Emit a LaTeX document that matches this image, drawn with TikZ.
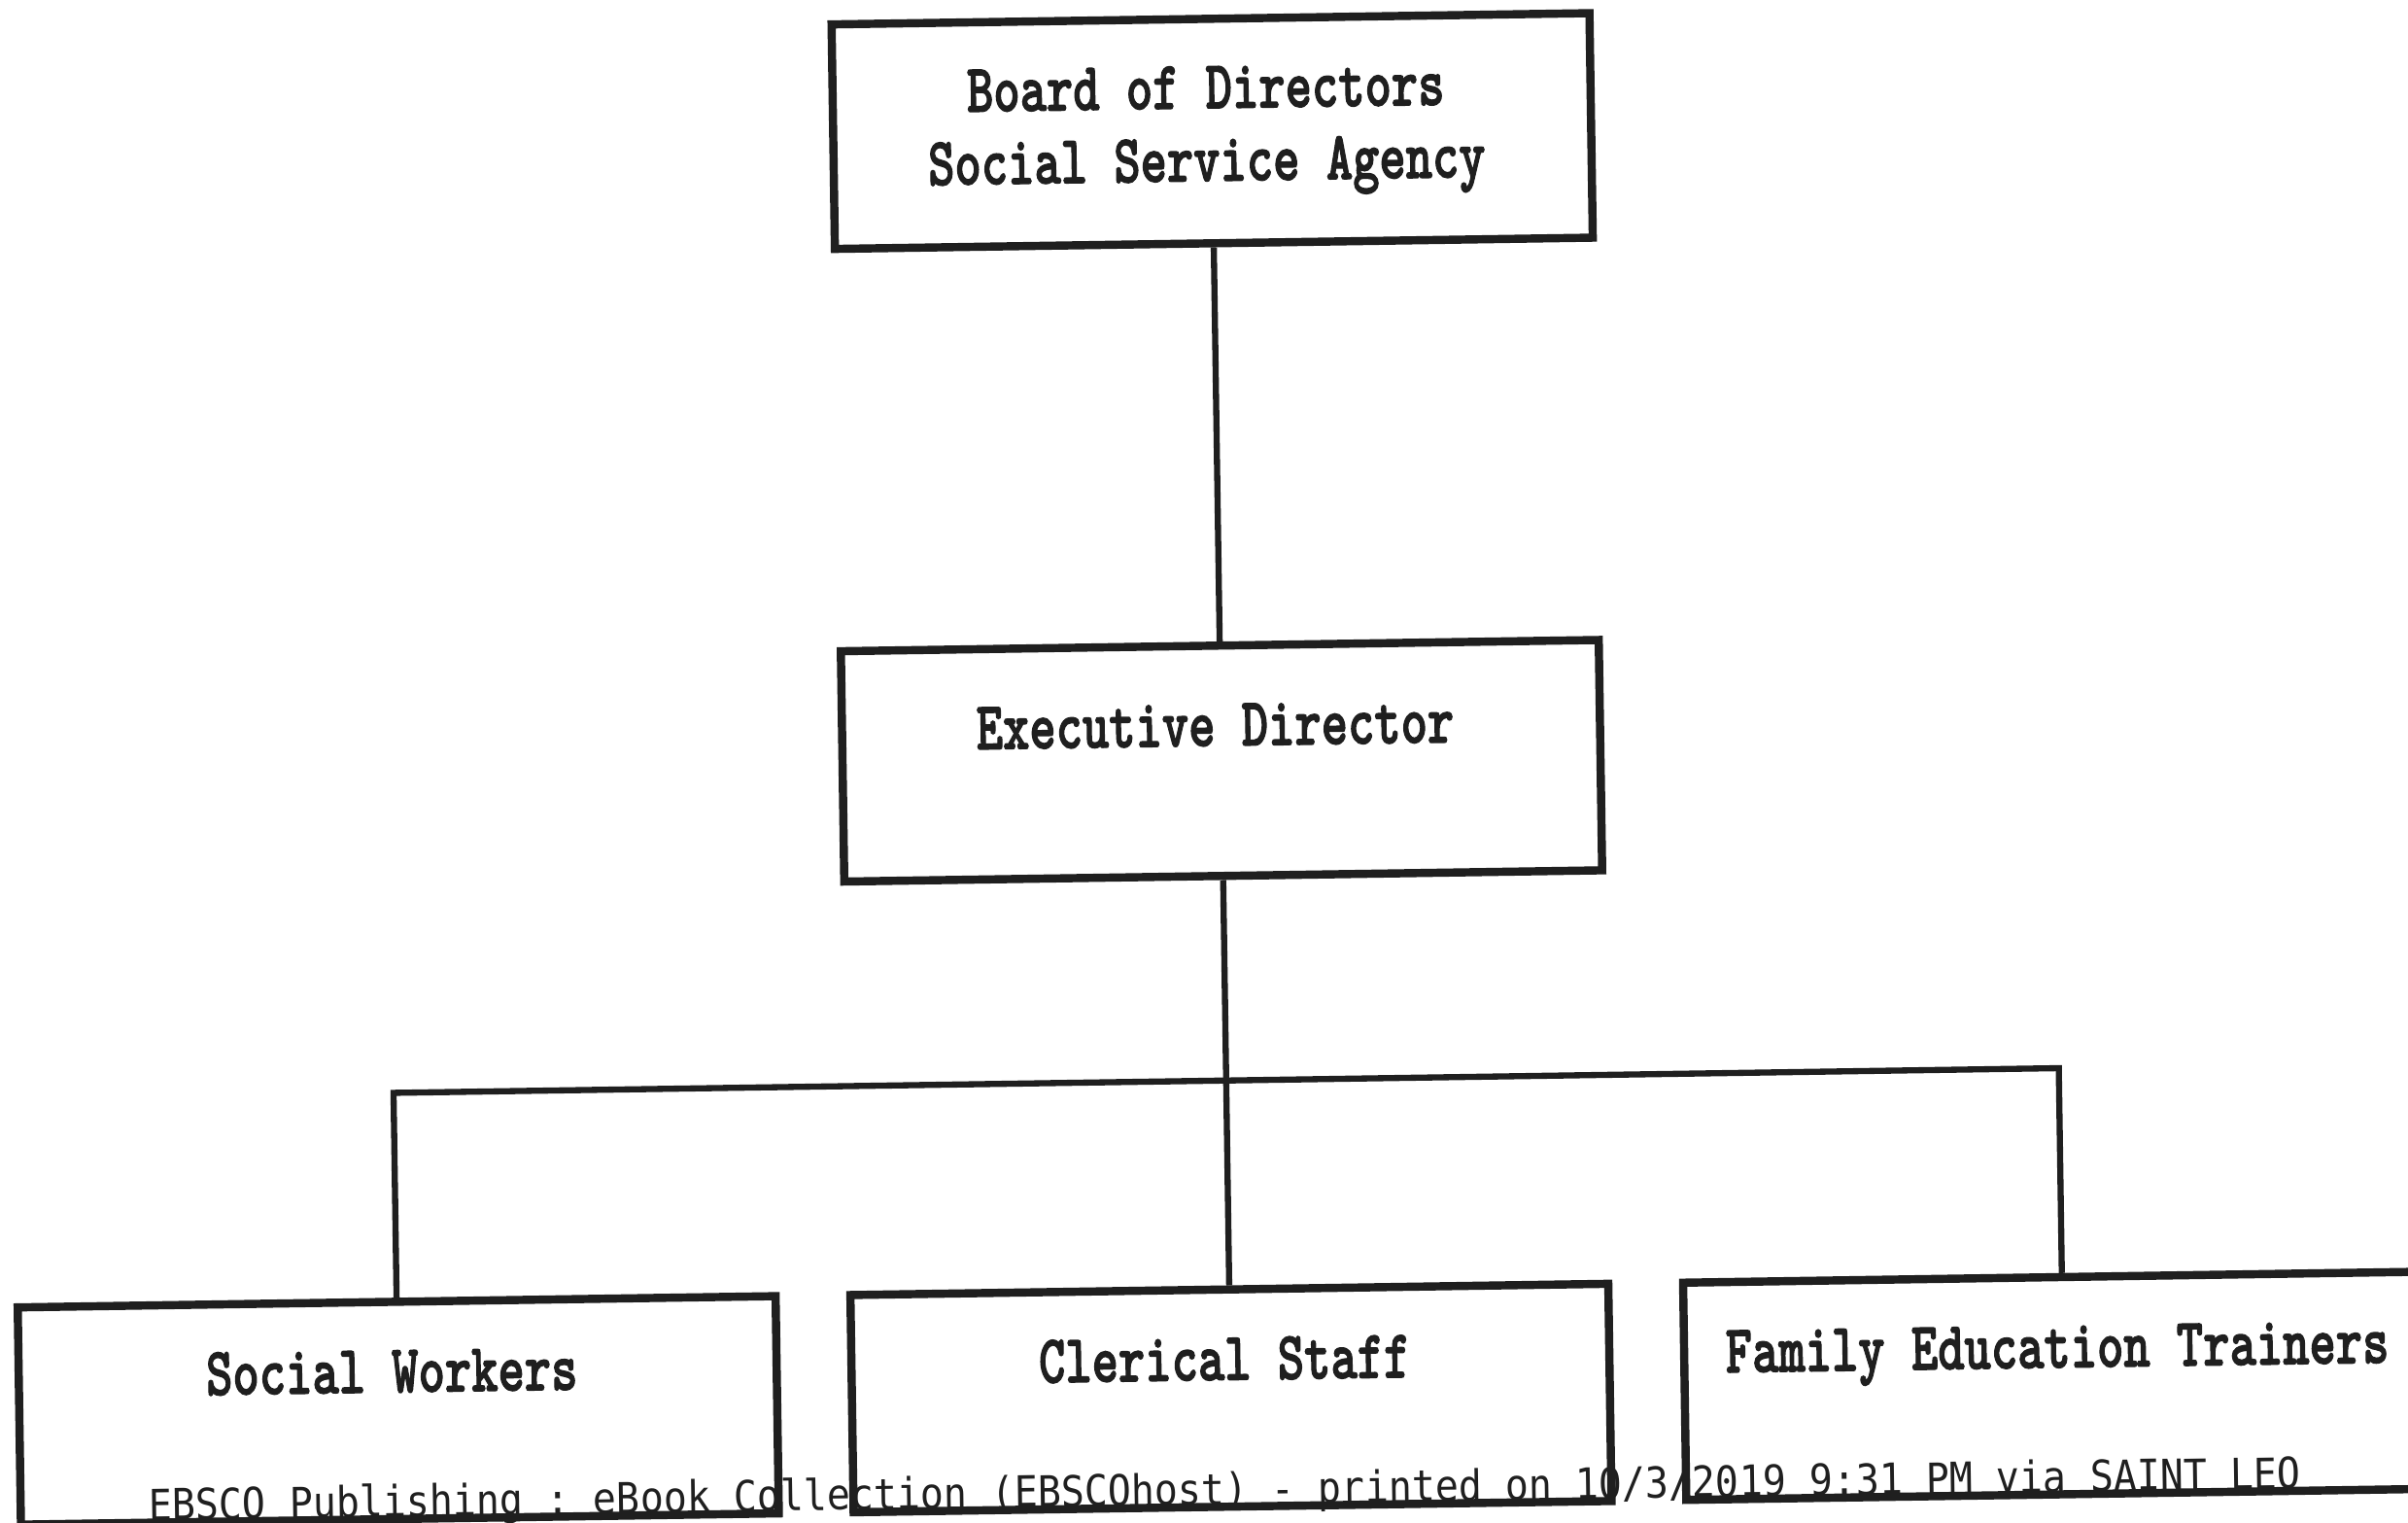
\documentclass[tikz,border=0pt]{standalone}
\usepackage{fontspec}
\usepackage{graphicx}
\newfontfamily\footfont{DejaVu Sans Mono}
\newfontfamily\boxfont{lmmonolt10-bold.otf}[FakeBold=2]
\definecolor{ink}{gray}{0.12}
\newcommand\midx{12.57}
\newcommand\colgap{8.57}
\newcommand\boxw{7.8}
\newcommand\bary{4.54}
\newcommand\squeeze[1]{\scalebox{0.74}[1]{#1}\hspace*{0.12cm}}
\tikzset{
    orgbox/.style={draw=ink, line width=2.4pt, minimum width=\boxw cm, inner sep=0pt,
        text=ink, align=center, font=\boxfont\fontsize{20}{21.3}\selectfont},
    link/.style={draw=ink, line width=1.8pt},
    footer/.style={inner sep=0pt, text=ink, font=\footfont\frenchspacing\fontsize{12.5}{13}\selectfont},
}

\begin{document}
\begin{tikzpicture}
    \useasboundingbox (0,0) rectangle (24.78,15.66);
    \clip (0,0) rectangle (24.78,15.66);
    \begin{scope}[rotate around={0.85:(12.39,7.83)}, transform shape]
    % --- Board
    \node[orgbox, minimum height=2.31cm] (board) at (\midx,14.31) {\squeeze{Board of Directors}\\\squeeze{Social Service Agency}};
    % --- Executive Director
    \node[orgbox, text height=1.03cm, text depth=1.34cm] (exec) at (\midx,7.83) {\squeeze{Executive Director}};
    % --- Staff row
    \node[orgbox, text height=0.93cm, text depth=1.305cm] (social) at (\midx-\colgap,1.2725) {\squeeze{Social Workers}};
    \node[orgbox, text height=0.93cm, text depth=1.305cm] (clerical) at (\midx,1.2725) {\squeeze{Clerical Staff}};
    \node[orgbox, text height=0.93cm, text depth=1.305cm] (family) at (\midx+\colgap,1.2725) {\squeeze{Family Education Trainers}};
    % --- Links
    \coordinate (split) at (\midx,\bary);
    \draw[link] (board) -- (exec);
    \draw[link] (exec) -- (split);
    \draw[link] (social) |- (split) -| (family);
    \draw[link] (split) -- (clerical);
    % --- Footer
    \node[footer, anchor=base west] (footer) at (1.415,0.18) {\scalebox{0.91}[1]{EBSCO Publishing : eBook Collection (EBSCOhost) - printed on 10/3/2019 9:31 PM via SAINT LEO}};
    \end{scope}
\end{tikzpicture}
\end{document}
